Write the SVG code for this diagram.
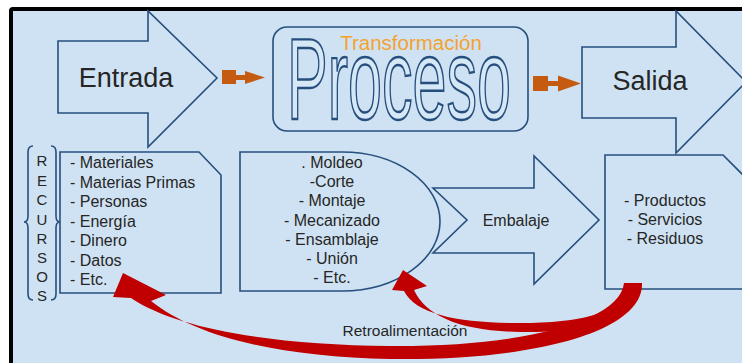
<svg xmlns="http://www.w3.org/2000/svg" width="742" height="363" viewBox="0 0 742 363">
<style>
.shape{fill:#cfe2f3;stroke:#264f7d;stroke-width:1.6;stroke-linejoin:miter}
.t{font-family:"Liberation Sans",Arial,sans-serif;fill:#262626}
.lst{font-size:16px}
.big{font-size:27px}
.ctr{text-anchor:middle}
.orange{fill:#c55a11}
.red{fill:#c00000}
.brace{fill:none;stroke:#264f7d;stroke-width:1.6}
</style>
<rect x="0" y="0" width="742" height="363" fill="#ffffff"/>
<rect x="11" y="9" width="800" height="420" rx="2" fill="#cfe2f3" stroke="#000000" stroke-width="4"/>

<g id="entrada">
<polygon class="shape" points="58,41 148,41 148,11 217,78 148,147 148,113 58,113"/>
<text class="t big ctr" x="126" y="87">Entrada</text>
</g>

<g id="proceso">
<rect class="shape" x="273" y="27" width="255" height="104" rx="14"/>
<text transform="translate(287,119) scale(0.531,1)" x="0" y="0" style="font-family:'Liberation Sans',Arial,sans-serif;font-size:115px;fill:#d6e7f6;stroke:#264f7d;stroke-width:2.4">Proceso</text>
<text class="t ctr" x="411" y="50" style="font-size:20.5px;fill:#f4a22d">Transformación</text>
</g>

<g id="salida">
<polygon class="shape" points="582,47 676,47 676,11 746,82 676,153 676,118 582,118"/>
<text class="t big ctr" x="650" y="90">Salida</text>
</g>

<g id="recursos">
<path class="brace" d="M33,146 Q28,146 28,152 L28,216 Q28,222 24,222 Q28,222 28,228 L28,294 Q28,300 33,300"/>
<path class="brace" d="M51,146 Q56,146 56,152 L56,216 Q56,222 60,222 Q56,222 56,228 L56,294 Q56,300 51,300"/>
<g class="t ctr" style="font-size:15px">
<text x="42" y="166">R</text>
<text x="42" y="185.5">E</text>
<text x="42" y="205">C</text>
<text x="42" y="224.5">U</text>
<text x="42" y="243.5">R</text>
<text x="42" y="263">S</text>
<text x="42" y="282">O</text>
<text x="42" y="301">S</text>
</g>
</g>

<g id="materiales">
<polygon class="shape" points="60,152 199,152 221,175 221,293 60,293"/>
<g class="t lst">
<text x="70" y="168">- Materiales</text>
<text x="70" y="187.5">- Materias Primas</text>
<text x="70" y="207">- Personas</text>
<text x="70" y="226.5">- Energía</text>
<text x="70" y="246">- Dinero</text>
<text x="70" y="265.5">- Datos</text>
<text x="70" y="285">- Etc.</text>
</g>
</g>

<g id="embalaje">
<polygon class="shape" points="433,188 534,188 534,156 599,220 534,284 534,253 433,253 467,220"/>
<text class="t lst ctr" x="516" y="226">Embalaje</text>
</g>

<g id="operaciones">
<path class="shape" d="M240,152 L342,152 A98,69.5 0 0 1 342,291 L240,291 Z"/>
<g class="t lst ctr">
<text x="332" y="168">. Moldeo</text>
<text x="332" y="187.2">-Corte</text>
<text x="332" y="206.4">- Montaje</text>
<text x="332" y="225.6">- Mecanizado</text>
<text x="332" y="244.8">- Ensamblaje</text>
<text x="332" y="264">- Unión</text>
<text x="332" y="283.2">- Etc.</text>
</g>
</g>

<g id="resultados">
<polygon class="shape" points="605,155 723,155 750,182 750,289 605,289"/>
<g class="t lst ctr">
<text x="665" y="206">- Productos</text>
<text x="665" y="225">- Servicios</text>
<text x="665" y="244">- Residuos</text>
</g>
</g>

<g id="connectors">
<g class="orange">
<rect x="222" y="70" width="14" height="14"/>
<rect x="235" y="75" width="11" height="5"/>
<polygon points="245,71 265,77.5 245,84"/>
<rect x="533" y="76" width="15" height="15"/>
<rect x="547" y="81" width="12" height="5"/>
<polygon points="558,75.5 581,83.5 558,91.5"/>
</g>
<g class="red">
<path d="M624,283 L642,283 C644,333 530,361 390,359 C280,357 196,337 151,301 L166,295 L123,273 L113,297 L131,298 C175,328 270,345 390,346 C520,347 620,322 624,283 Z"/>
<path d="M627,283 L638,283 C638,321 580,333 520,332 C460,331 426,316 414,290 L427,286 L403,270 L392,290 L404,291 C416,315 460,323 520,323 C580,323 624,314 627,283 Z"/>
</g>
<text class="t ctr" x="405" y="336" style="font-size:15.5px">Retroalimentación</text>
</g>
</svg>
